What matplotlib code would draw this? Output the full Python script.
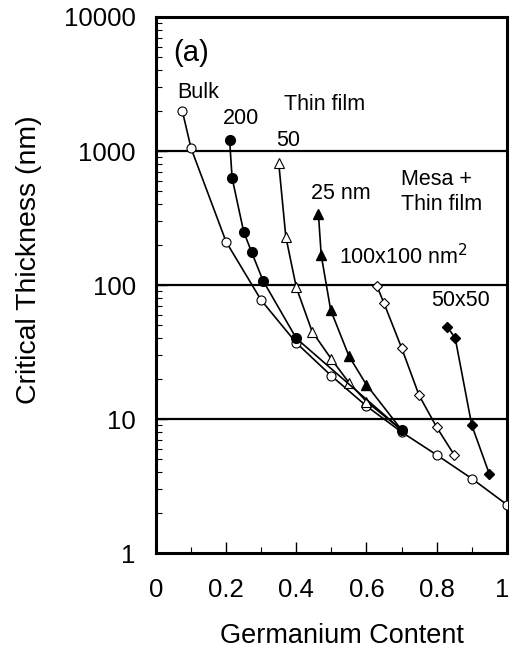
import matplotlib
matplotlib.use("Agg")
import matplotlib.pyplot as plt
from matplotlib.transforms import ScaledTranslation
from matplotlib.ticker import FixedLocator, FixedFormatter, LogLocator, NullFormatter, MultipleLocator

plt.rcParams['font.family'] = ['Liberation Sans', 'DejaVu Sans']

# Bulk (open circles)
bulk_x = [0.075, 0.10, 0.20, 0.30, 0.40, 0.50, 0.60, 0.70, 0.80, 0.90, 1.00]
bulk_y = [2000, 1050, 210, 77, 37, 21, 12.5, 8.0, 5.4, 3.6, 2.3]

# Thin film 200 nm (filled circles)
tf200_x = [0.21, 0.217, 0.25, 0.273, 0.305, 0.40, 0.70]
tf200_y = [1200, 630, 250, 175, 108, 40, 8.3]

# Thin film 50 nm (open triangles)
tf50_x = [0.35, 0.37, 0.40, 0.445, 0.50, 0.55, 0.60, 0.70]
tf50_y = [810, 230, 96, 45, 28, 18.7, 13.5, 8.3]

# Thin film 25 nm (filled triangles)
tf25_x = [0.463, 0.471, 0.498, 0.55, 0.60, 0.70]
tf25_y = [340, 167, 65, 29.5, 18, 8.3]

# Mesa + thin film 100x100 nm^2 (open diamonds)
m100_x = [0.63, 0.65, 0.70, 0.75, 0.80, 0.85]
m100_y = [98, 73, 34, 15, 8.7, 5.4]

# Mesa + thin film 50x50 nm^2 (filled diamonds)
m50_x = [0.83, 0.853, 0.90, 0.95]
m50_y = [49, 40, 9.0, 3.9]

y_ticks = [1, 10, 100, 1000, 10000]
y_labels = ["1", "10", "100", "1000", "10000"]
x_ticks = [0, 0.2, 0.4, 0.6, 0.8, 1.0]
x_labels = ["0", "0.2", "0.4", "0.6", "0.8", "1"]

fig = plt.figure(figsize=(5.13, 6.53), dpi=100)
ax = fig.add_axes([0.304, 0.153, 0.684, 0.821])
ax.set_yscale('log')
ax.set_xlim(0, 1)
ax.set_ylim(1, 10000)

for yv in [10, 100, 1000]:
    ax.axhline(yv, color='black', lw=1.6, zorder=1)

lw = 1.2
ms = 6.5
ax.plot(bulk_x, bulk_y, '-', color='black', lw=lw, marker='o', mfc='white', mec='black',
        ms=ms, mew=0.8, zorder=3)
ax.plot(tf200_x, tf200_y, '-', color='black', lw=lw, marker='o', mfc='black', mec='black',
        ms=7, zorder=4)
ax.plot(tf50_x, tf50_y, '-', color='black', lw=lw, marker='^', mfc='white', mec='black',
        ms=ms, mew=0.8, zorder=3, markevery=list(range(len(tf50_x) - 1)))
ax.plot(tf25_x, tf25_y, '-', color='black', lw=lw, marker='^', mfc='black', mec='black',
        ms=ms, zorder=4, markevery=list(range(len(tf25_x) - 1)))
ax.plot(m100_x, m100_y, '-', color='black', lw=lw, marker='D', mfc='white', mec='black',
        ms=5.5, mew=0.8, zorder=3)
ax.plot(m50_x, m50_y, '-', color='black', lw=lw, marker='D', mfc='black', mec='black',
        ms=5.5, zorder=4)

fs = 15.5
ax.text(0.05, 5400, "(a)", fontsize=21, va='center', ha='left')
ax.text(0.06, 2750, "Bulk", fontsize=fs, va='center', ha='left')
ax.text(0.19, 1760, "200", fontsize=fs, va='center', ha='left')
ax.text(0.366, 2220, "Thin film", fontsize=fs, va='center', ha='left')
ax.text(0.343, 1190, "50", fontsize=fs, va='center', ha='left')
ax.text(0.698, 608, "Mesa +", fontsize=fs, va='center', ha='left')
ax.text(0.698, 402, "Thin film", fontsize=fs, va='center', ha='left')
ax.text(0.443, 482, "25 nm", fontsize=fs, va='center', ha='left')
ax.text(0.522, 162, "100x100 nm$^2$", fontsize=fs, va='center', ha='left')
ax.text(0.783, 77, "50x50", fontsize=fs, va='center', ha='left')

ax.yaxis.set_major_locator(FixedLocator(y_ticks))
ax.yaxis.set_major_formatter(FixedFormatter(y_labels))
ax.yaxis.set_minor_locator(LogLocator(base=10, subs=range(2, 10), numticks=20))
ax.yaxis.set_minor_formatter(NullFormatter())
ax.xaxis.set_major_locator(FixedLocator(x_ticks))
ax.xaxis.set_major_formatter(FixedFormatter(x_labels))
ax.xaxis.set_minor_locator(MultipleLocator(0.1))

ax.tick_params(axis='both', which='major', direction='in', length=8, width=1.0,
               labelsize=18.5, top=False, right=False)
ax.tick_params(axis='both', which='minor', direction='in', length=4, width=0.8,
               top=False, right=False)
ax.tick_params(axis='x', which='major', pad=18)
ax.tick_params(axis='y', which='major', pad=14.5)

# keep the last x tick label inside the canvas
last = ax.get_xticklabels()[-1]
last.set_transform(last.get_transform() + ScaledTranslation(-3 / 72, 0, fig.dpi_scale_trans))

for s in ax.spines.values():
    s.set_linewidth(2.2)

ax.set_xlabel("Germanium Content", fontsize=19.5, va='top')
ax.xaxis.set_label_coords(0.53, -0.131)
ax.set_ylabel("Critical Thickness (nm)", fontsize=20.5, va='center')
ax.yaxis.set_label_coords(-0.361, 0.547)

fig.savefig("out.png", dpi=100)
